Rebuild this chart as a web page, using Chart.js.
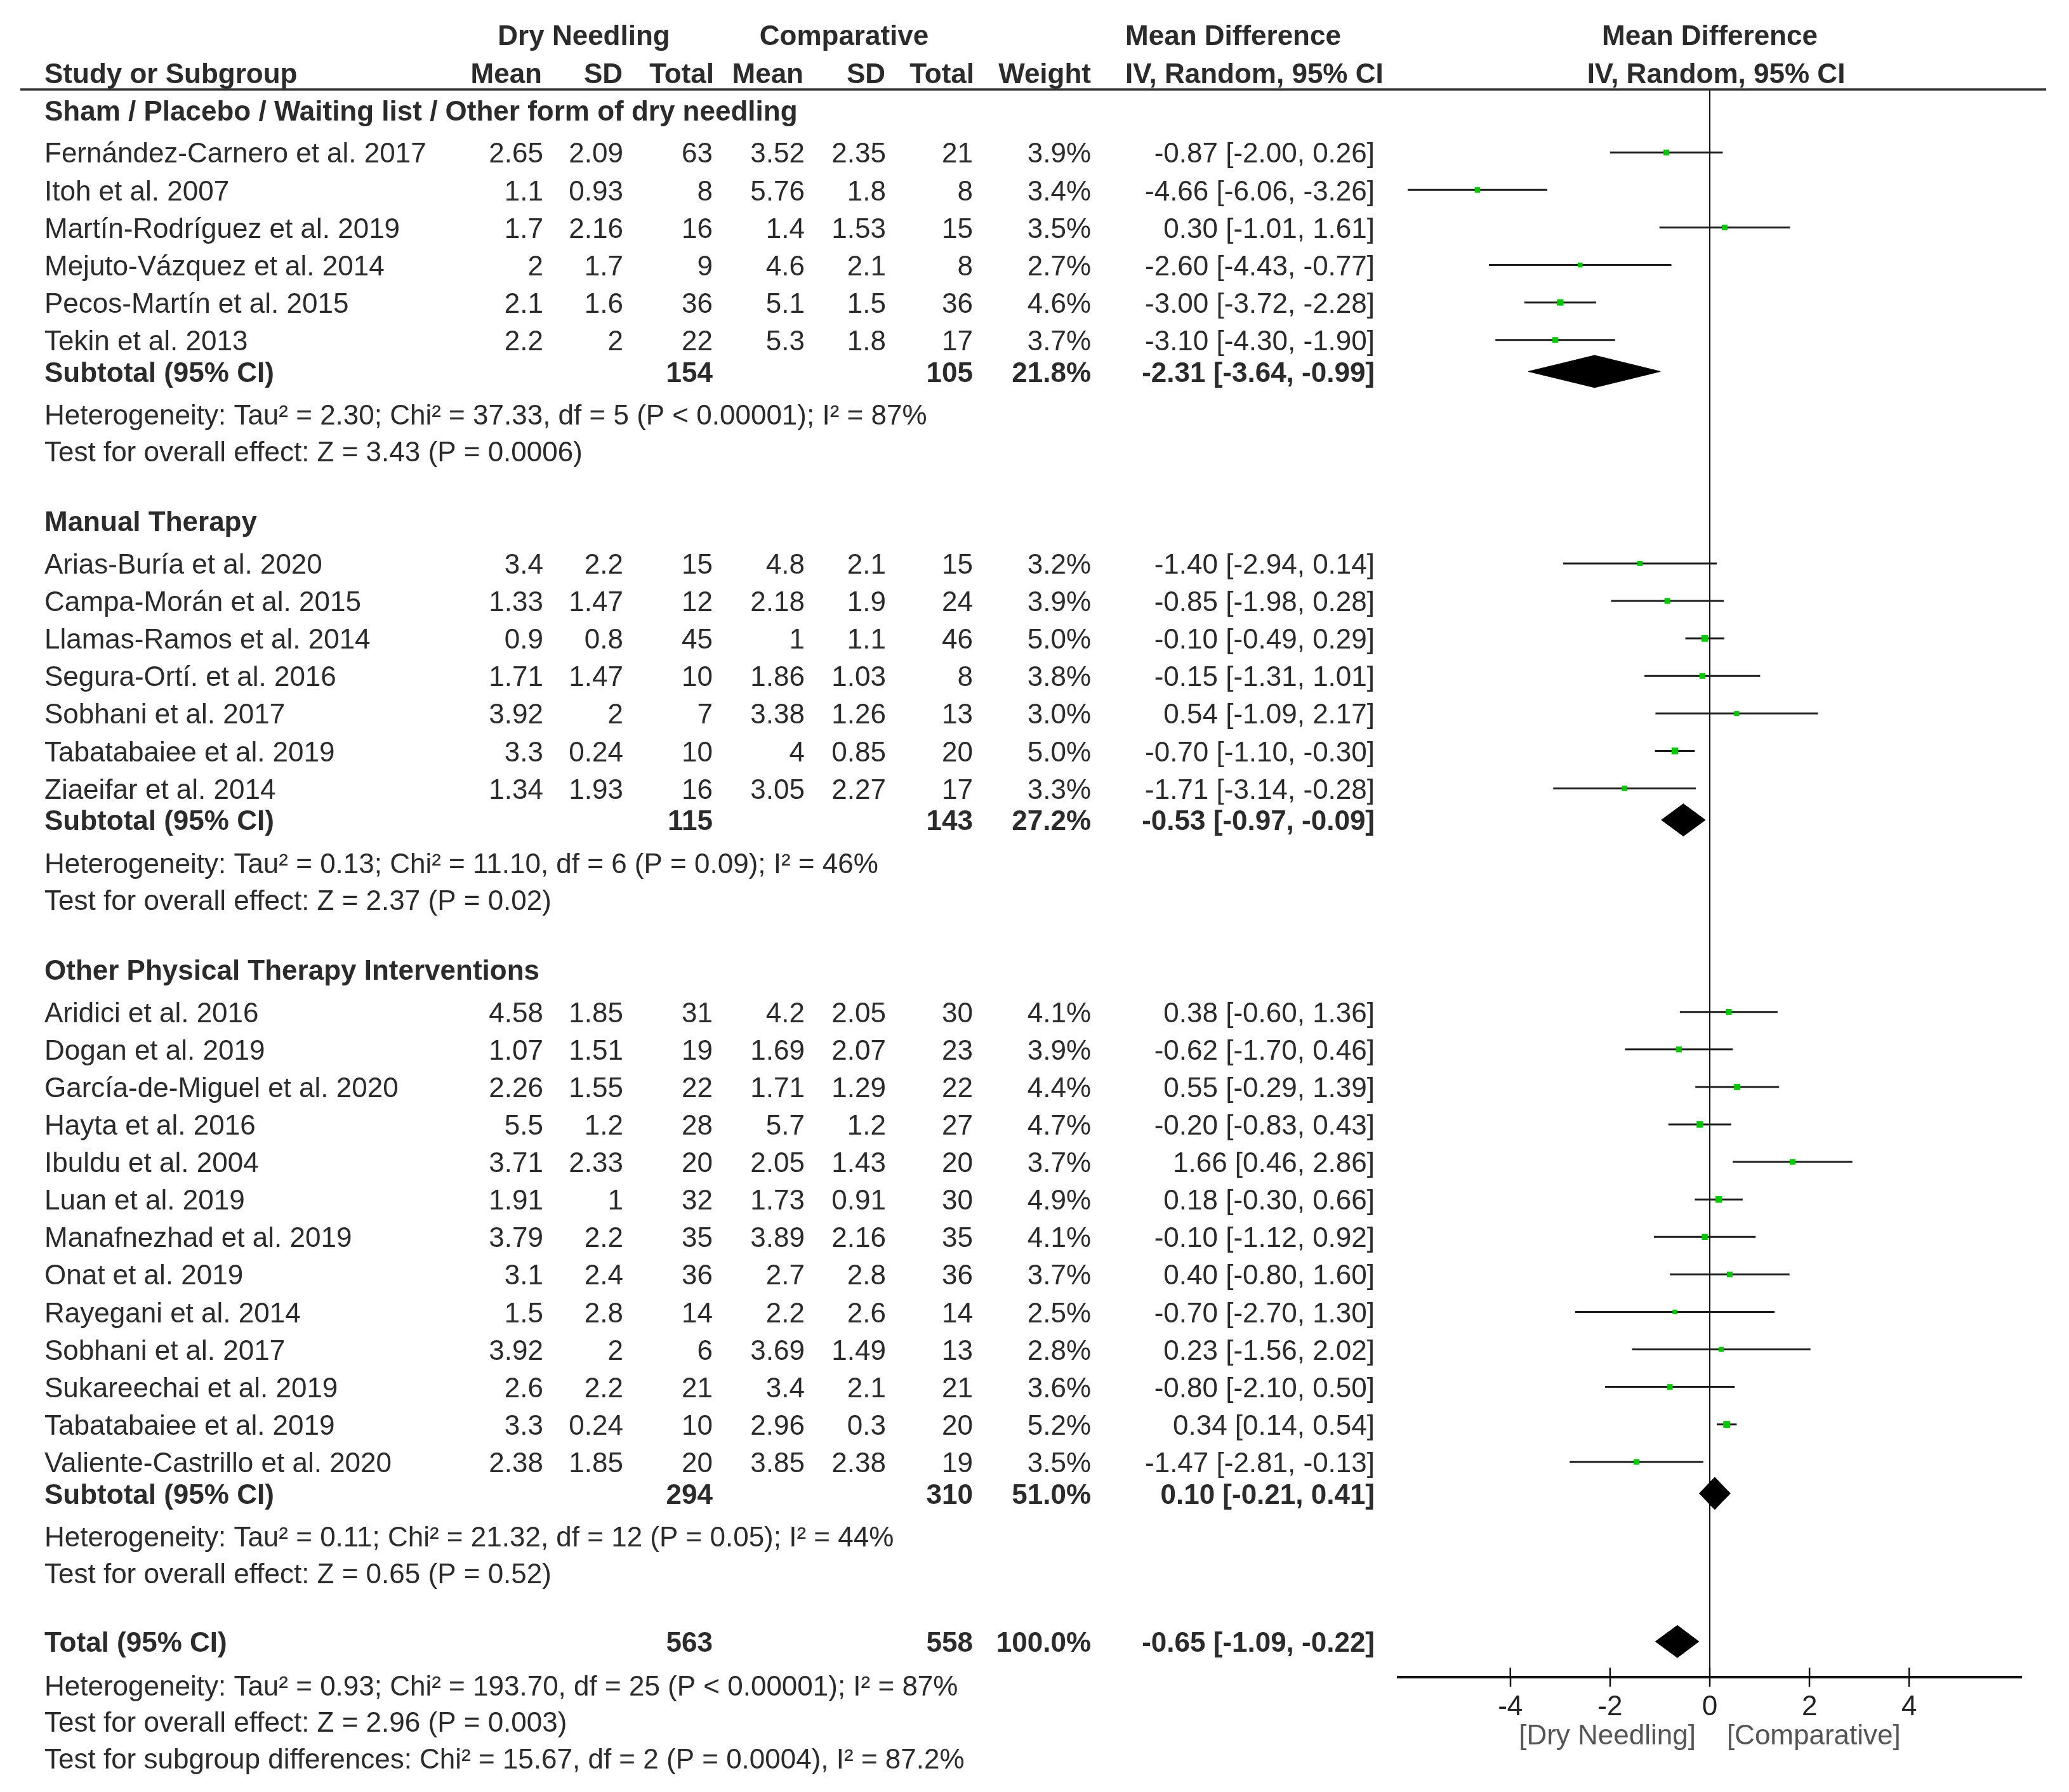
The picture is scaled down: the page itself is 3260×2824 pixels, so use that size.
<!DOCTYPE html>
<html>
<head>
<meta charset="utf-8">
<script src="https://cdn.jsdelivr.net/npm/chart.js@4.4.1/dist/chart.umd.min.js"></script>
<style>
  html, body { margin: 0; padding: 0; background: #fff; }
  #wrap { position: relative; width: 3260px; height: 2824px; }
</style>
</head>
<body>
<div id="wrap"><canvas id="forest"></canvas></div>
<script>
// Subgroups
const groupNames = [
    'Sham / Placebo / Waiting list / Other form of dry needling',
    'Manual Therapy',
    'Other Physical Therapy Interventions'
];

// Studies
const studies = [
    'Fernández-Carnero et al. 2017', 'Itoh et al. 2007', 'Martín-Rodríguez et al. 2019',
    'Mejuto-Vázquez et al. 2014', 'Pecos-Martín et al. 2015', 'Tekin et al. 2013',
    'Arias-Buría et al. 2020', 'Campa-Morán et al. 2015', 'Llamas-Ramos et al. 2014',
    'Segura-Ortí. et al. 2016', 'Sobhani et al. 2017', 'Tabatabaiee et al. 2019',
    'Ziaeifar et al. 2014',
    'Aridici et al. 2016', 'Dogan et al. 2019', 'García-de-Miguel et al. 2020',
    'Hayta et al. 2016', 'Ibuldu et al. 2004', 'Luan et al. 2019', 'Manafnezhad et al. 2019',
    'Onat et al. 2019', 'Rayegani et al. 2014', 'Sobhani et al. 2017',
    'Sukareechai et al. 2019', 'Tabatabaiee et al. 2019', 'Valiente-Castrillo et al. 2020'
];
const studyGroup = [0,0,0,0,0,0, 1,1,1,1,1,1,1, 2,2,2,2,2,2,2,2,2,2,2,2,2];

const dnMean  = [2.65, 1.1, 1.7, 2, 2.1, 2.2, 3.4, 1.33, 0.9, 1.71, 3.92, 3.3, 1.34,
                 4.58, 1.07, 2.26, 5.5, 3.71, 1.91, 3.79, 3.1, 1.5, 3.92, 2.6, 3.3, 2.38];
const dnSD    = [2.09, 0.93, 2.16, 1.7, 1.6, 2, 2.2, 1.47, 0.8, 1.47, 2, 0.24, 1.93,
                 1.85, 1.51, 1.55, 1.2, 2.33, 1, 2.2, 2.4, 2.8, 2, 2.2, 0.24, 1.85];
const dnTotal = [63, 8, 16, 9, 36, 22, 15, 12, 45, 10, 7, 10, 16,
                 31, 19, 22, 28, 20, 32, 35, 36, 14, 6, 21, 10, 20];
const cmpMean  = [3.52, 5.76, 1.4, 4.6, 5.1, 5.3, 4.8, 2.18, 1, 1.86, 3.38, 4, 3.05,
                  4.2, 1.69, 1.71, 5.7, 2.05, 1.73, 3.89, 2.7, 2.2, 3.69, 3.4, 2.96, 3.85];
const cmpSD    = [2.35, 1.8, 1.53, 2.1, 1.5, 1.8, 2.1, 1.9, 1.1, 1.03, 1.26, 0.85, 2.27,
                  2.05, 2.07, 1.29, 1.2, 1.43, 0.91, 2.16, 2.8, 2.6, 1.49, 2.1, 0.3, 2.38];
const cmpTotal = [21, 8, 15, 8, 36, 17, 15, 24, 46, 8, 13, 20, 17,
                  30, 23, 22, 27, 20, 30, 35, 36, 14, 13, 21, 20, 19];
const weights  = [3.9, 3.4, 3.5, 2.7, 4.6, 3.7, 3.2, 3.9, 5.0, 3.8, 3.0, 5.0, 3.3,
                  4.1, 3.9, 4.4, 4.7, 3.7, 4.9, 4.1, 3.7, 2.5, 2.8, 3.6, 5.2, 3.5];
const md     = [-0.87, -4.66, 0.30, -2.60, -3.00, -3.10, -1.40, -0.85, -0.10, -0.15, 0.54, -0.70, -1.71,
                0.38, -0.62, 0.55, -0.20, 1.66, 0.18, -0.10, 0.40, -0.70, 0.23, -0.80, 0.34, -1.47];
const ciLow  = [-2.00, -6.06, -1.01, -4.43, -3.72, -4.30, -2.94, -1.98, -0.49, -1.31, -1.09, -1.10, -3.14,
                -0.60, -1.70, -0.29, -0.83, 0.46, -0.30, -1.12, -0.80, -2.70, -1.56, -2.10, 0.14, -2.81];
const ciHigh = [0.26, -3.26, 1.61, -0.77, -2.28, -1.90, 0.14, 0.28, 0.29, 1.01, 2.17, -0.30, -0.28,
                1.36, 0.46, 1.39, 0.43, 2.86, 0.66, 0.92, 1.60, 1.30, 2.02, 0.50, 0.54, -0.13];

// Subtotals
const subDnTotal  = [154, 115, 294];
const subCmpTotal = [105, 143, 310];
const subWeight   = [21.8, 27.2, 51.0];
const subMd       = [-2.31, -0.53, 0.10];
const subLow      = [-3.64, -0.97, -0.21];
const subHigh     = [-0.99, -0.09, 0.41];
const subHetero = [
    'Heterogeneity: Tau² = 2.30; Chi² = 37.33, df = 5 (P < 0.00001); I² = 87%',
    'Heterogeneity: Tau² = 0.13; Chi² = 11.10, df = 6 (P = 0.09); I² = 46%',
    'Heterogeneity: Tau² = 0.11; Chi² = 21.32, df = 12 (P = 0.05); I² = 44%'
];
const subEffect = [
    'Test for overall effect: Z = 3.43 (P = 0.0006)',
    'Test for overall effect: Z = 2.37 (P = 0.02)',
    'Test for overall effect: Z = 0.65 (P = 0.52)'
];

// Overall
const totalCounts = [563, 558];
const totalWeight = 100.0;
const totalCi = [-0.65, -1.09, -0.22];
const totalNotes = [
    'Heterogeneity: Tau² = 0.93; Chi² = 193.70, df = 25 (P < 0.00001); I² = 87%',
    'Test for overall effect: Z = 2.96 (P = 0.003)',
    'Test for subgroup differences: Chi² = 15.67, df = 2 (P = 0.0004), I² = 87.2%'
];

const tickValues = [-4, -2, 0, 2, 4];
const axisTitle = '[Dry Needling]    [Comparative]';

// Row layout (in row units, first study row = 0)
const layout = { head: [], study: [], sub: [], het: [], test: [] };
(function buildLayout() {
    let y = -1.13;
    groupNames.forEach((g, gi) => {
        layout.head[gi] = y;
        y += 1.13;
        studyGroup.forEach((sg, i) => {
            if (sg === gi) { layout.study[i] = y; y += 1; }
        });
        y += -1 + 0.84; layout.sub[gi] = y;
        y += 1.14; layout.het[gi] = y;
        y += 0.98; layout.test[gi] = y;
        y += 1.87;
    });
    layout.total = layout.test[2] + 1.83;
    layout.notes = [layout.total + 1.16, layout.total + 2.14, layout.total + 3.12];
    layout.axis = layout.total + 0.95;
})();

const FONT = '"Liberation Sans", Arial, sans-serif';
const FS = 44;
const TXT = '#2b2b2b';

function put(ctx, s, x, y, align, bold, color) {
    ctx.font = (bold ? 'bold ' : '') + FS + 'px ' + FONT;
    ctx.textAlign = align || 'left';
    ctx.textBaseline = 'middle';
    ctx.fillStyle = color || TXT;
    ctx.fillText(s, x, y + 4);
}

const fmt2 = v => v.toFixed(2);
const ciText = (m, l, h) => fmt2(m) + ' [' + fmt2(l) + ', ' + fmt2(h) + ']';

// column right edges
const COL = { name: 70, dnM: 856, dnS: 982, dnT: 1123, cM: 1268, cS: 1396, cT: 1533, w: 1719, ci: 2166 };

const tablePlugin = {
    id: 'forestTable',
    afterDraw(chart) {
        const ctx = chart.ctx;
        const ys = chart.scales.y, xs = chart.scales.x;
        const py = v => ys.getPixelForValue(v);
        const zeroX = xs.getPixelForValue(0);
        ctx.save();

        // headers
        const h1 = py(-3.13), h2 = py(-2.13);
        put(ctx, 'Dry Needling', 920, h1, 'center', true);
        put(ctx, 'Comparative', 1330, h1, 'center', true);
        put(ctx, 'Mean Difference', 1943, h1, 'center', true);
        put(ctx, 'Mean Difference', zeroX, h1, 'center', true);
        put(ctx, 'Study or Subgroup', COL.name, h2, 'left', true);
        put(ctx, 'Mean', 854, h2, 'right', true);
        put(ctx, 'SD', 981, h2, 'right', true);
        put(ctx, 'Total', 1125, h2, 'right', true);
        put(ctx, 'Mean', 1266, h2, 'right', true);
        put(ctx, 'SD', 1395, h2, 'right', true);
        put(ctx, 'Total', 1535, h2, 'right', true);
        put(ctx, 'Weight', 1719, h2, 'right', true);
        put(ctx, 'IV, Random, 95% CI', 1773, h2, 'left', true);
        put(ctx, 'IV, Random, 95% CI', zeroX + 10, h2, 'center', true);

        // header rule
        ctx.strokeStyle = '#333';
        ctx.lineWidth = 3.5;
        ctx.beginPath();
        ctx.moveTo(32, chart.chartArea.top);
        ctx.lineTo(3224, chart.chartArea.top);
        ctx.stroke();

        // study rows
        studies.forEach((name, i) => {
            const yy = py(layout.study[i]);
            put(ctx, name, COL.name, yy, 'left');
            put(ctx, String(dnMean[i]), COL.dnM, yy, 'right');
            put(ctx, String(dnSD[i]), COL.dnS, yy, 'right');
            put(ctx, String(dnTotal[i]), COL.dnT, yy, 'right');
            put(ctx, String(cmpMean[i]), COL.cM, yy, 'right');
            put(ctx, String(cmpSD[i]), COL.cS, yy, 'right');
            put(ctx, String(cmpTotal[i]), COL.cT, yy, 'right');
            put(ctx, weights[i].toFixed(1) + '%', COL.w, yy, 'right');
            put(ctx, ciText(md[i], ciLow[i], ciHigh[i]), COL.ci, yy, 'right');
        });

        // subgroup blocks
        groupNames.forEach((g, gi) => {
            put(ctx, g, COL.name, py(layout.head[gi]), 'left', true);
            const ys2 = py(layout.sub[gi]);
            put(ctx, 'Subtotal (95% CI)', COL.name, ys2, 'left', true);
            put(ctx, String(subDnTotal[gi]), COL.dnT, ys2, 'right', true);
            put(ctx, String(subCmpTotal[gi]), COL.cT, ys2, 'right', true);
            put(ctx, subWeight[gi].toFixed(1) + '%', COL.w, ys2, 'right', true);
            put(ctx, ciText(subMd[gi], subLow[gi], subHigh[gi]), COL.ci, ys2, 'right', true);
            put(ctx, subHetero[gi], COL.name, py(layout.het[gi]), 'left');
            put(ctx, subEffect[gi], COL.name, py(layout.test[gi]), 'left');
        });

        // total
        const yt = py(layout.total);
        put(ctx, 'Total (95% CI)', COL.name, yt, 'left', true);
        put(ctx, String(totalCounts[0]), COL.dnT, yt, 'right', true);
        put(ctx, String(totalCounts[1]), COL.cT, yt, 'right', true);
        put(ctx, totalWeight.toFixed(1) + '%', COL.w, yt, 'right', true);
        put(ctx, ciText(totalCi[0], totalCi[1], totalCi[2]), COL.ci, yt, 'right', true);
        totalNotes.forEach((n, k) => put(ctx, n, COL.name, py(layout.notes[k]), 'left'));

        // upper half of the axis tick marks
        ctx.strokeStyle = '#111';
        ctx.lineWidth = 2.5;
        xs.ticks.forEach(t => {
            const px = xs.getPixelForValue(t.value);
            ctx.beginPath();
            ctx.moveTo(px, chart.chartArea.bottom - 15);
            ctx.lineTo(px, chart.chartArea.bottom);
            ctx.stroke();
        });
        ctx.restore();
    }
};

// datasets
const ciSegments = [];
studies.forEach((s, i) => {
    ciSegments.push({ x: ciLow[i], y: layout.study[i] });
    ciSegments.push({ x: ciHigh[i], y: layout.study[i] });
    ciSegments.push({ x: ciHigh[i], y: null });
});
const estimates = studies.map((s, i) => ({ x: md[i], y: layout.study[i] }));
const squareSize = weights.map(w => 3 + w * 0.9);

const DH = 0.43; // diamond half-height in row units
function diamond(m, l, h, y) {
    return {
        type: 'line',
        order: 2,
        data: [{ x: l, y: y }, { x: m, y: y - DH }, { x: h, y: y }, { x: m, y: y + DH }, { x: l, y: y }],
        borderColor: '#000',
        backgroundColor: '#000',
        borderWidth: 1,
        pointRadius: 0,
        fill: 'shape',
        tension: 0
    };
}

const datasets = [
    {
        type: 'line',
        order: 1,
        data: ciSegments,
        borderColor: '#1e1e1e',
        borderWidth: 3,
        pointRadius: 0,
        spanGaps: false,
        fill: false,
        tension: 0
    },
    {
        type: 'scatter',
        order: 0,
        data: estimates,
        pointStyle: 'rect',
        pointRadius: squareSize,
        backgroundColor: '#00c800',
        borderWidth: 0
    }
];
groupNames.forEach((g, gi) => datasets.push(diamond(subMd[gi], subLow[gi], subHigh[gi], layout.sub[gi])));
datasets.push(diamond(totalCi[0], totalCi[1], totalCi[2], layout.total));

new Chart(document.getElementById('forest'), {
    type: 'scatter',
    data: { datasets: datasets },
    options: {
        responsive: true,
        maintainAspectRatio: false,
        devicePixelRatio: 1,
        animation: false,
        layout: { padding: { left: 2203, right: 75, top: 141, bottom: 41 } },
        plugins: {
            legend: { display: false },
            tooltip: { enabled: false }
        },
        scales: {
            x: {
                type: 'linear',
                min: -6.25,
                max: 6.25,
                afterBuildTicks(scale) {
                    scale.ticks = tickValues.map(v => ({ value: v }));
                },
                afterFit(scale) {
                    scale.height = 140;
                },
                border: { display: true, color: '#111', width: 4 },
                grid: {
                    color: c => (c.tick && c.tick.value === 0 ? '#111' : 'rgba(0,0,0,0)'),
                    lineWidth: 2,
                    drawTicks: true,
                    tickLength: 15,
                    tickColor: '#111',
                    tickWidth: 2.5
                },
                ticks: {
                    color: '#222',
                    padding: 6,
                    font: { family: FONT, size: FS }
                },
                title: {
                    display: true,
                    text: axisTitle,
                    color: '#555',
                    padding: { top: 0, bottom: 20 },
                    font: { family: FONT, size: FS }
                }
            },
            y: {
                type: 'linear',
                display: false,
                reverse: true,
                min: -1.68,
                max: layout.axis
            }
        }
    },
    plugins: [tablePlugin]
});
</script>
</body>
</html>
